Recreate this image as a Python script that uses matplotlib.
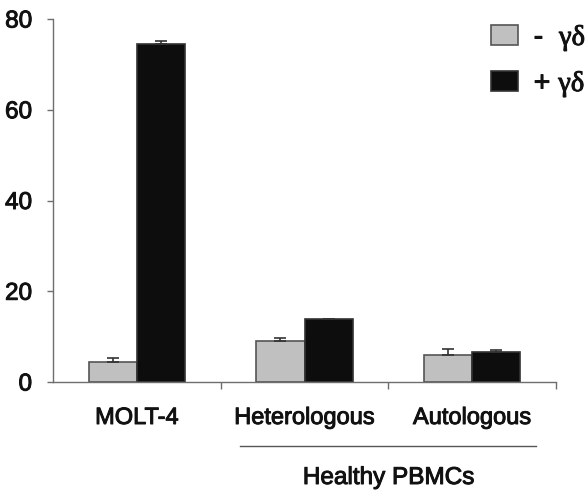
import matplotlib
matplotlib.use("Agg")
import matplotlib.pyplot as plt
import matplotlib.transforms as mtransforms
import matplotlib.patheffects as pe
from matplotlib.lines import Line2D
import numpy as np

plt.rcParams['font.family'] = ['Liberation Sans', 'DejaVu Sans']
plt.rcParams['mathtext.fontset'] = 'custom'
plt.rcParams['mathtext.rm'] = 'Liberation Serif'
plt.rcParams['mathtext.it'] = 'Liberation Serif'

categories = ["MOLT-4", "Heterologous", "Autologous"]
minus_gd = [4.5, 9.0, 6.0]
minus_gd_err = [0.7, 0.7, 1.3]
plus_gd = [74.6, 13.9, 6.6]
plus_gd_err = [0.6, 0.0, 0.4]
yticks = [0, 20, 40, 60, 80]
group_label = "Healthy PBMCs"

# slightly heavier strokes for all text
heavy = [pe.withStroke(linewidth=0.7, foreground="#111111")]

fig = plt.figure(figsize=(5.88, 4.91), dpi=100)
ax = fig.add_axes([53 / 588, 1 - 382 / 491, 503 / 588, 363 / 491])

x = np.arange(len(categories))
w = 0.287
axis_col = "#6e6e6e"

ax.bar(x - w / 2, minus_gd, w, color="#c0c0c0", edgecolor="#555555", linewidth=1.2,
       yerr=[np.zeros(len(x)), minus_gd_err], capsize=4,
       error_kw=dict(ecolor="#333333", elinewidth=1.2, capthick=1.2),
       label=r"-  $\mathrm{\gamma\delta}$", zorder=2)
ax.bar(x + w / 2, plus_gd, w, color="#0d0d0d", edgecolor="#333333", linewidth=1.2,
       yerr=[np.zeros(len(x)), plus_gd_err], capsize=4,
       error_kw=dict(ecolor="#333333", elinewidth=1.2, capthick=1.2),
       label=r"+ $\mathrm{\gamma\delta}$", zorder=2)

ax.set_xlim(-0.5, 2.5)
ax.set_ylim(0, 80)
ax.set_yticks(yticks)
ax.set_yticklabels([str(t) for t in yticks], fontsize=17.5, color="#111111")
for lbl in ax.get_yticklabels():
    lbl.set_path_effects(heavy)
ax.tick_params(axis='y', length=4, width=1, color=axis_col, pad=11)
ax.set_xticks([0.5, 1.5, 2.5])
ax.set_xticklabels([])
ax.tick_params(axis='x', length=5, width=1, color=axis_col)

for side in ("top", "right"):
    ax.spines[side].set_visible(False)
for side in ("left", "bottom"):
    ax.spines[side].set_color(axis_col)
    ax.spines[side].set_linewidth(1.0)

trans = mtransforms.blended_transform_factory(ax.transData, fig.transFigure)
for xi, name in zip(x, categories):
    ax.text(xi, 1 - 418 / 491, name, transform=trans, ha="center", va="center",
            fontsize=17, color="#111111", clip_on=False, path_effects=heavy)

fig.add_artist(Line2D([240 / 588, 536 / 588], [1 - 446 / 491, 1 - 446 / 491],
                      color="#555555", linewidth=1.0, transform=fig.transFigure))
ax.text(1.5, 1 - 478 / 491, group_label, transform=trans, ha="center", va="center",
        fontsize=17.5, color="#111111", clip_on=False, path_effects=heavy)

leg = ax.legend(loc="upper left", bbox_to_anchor=(491 / 588, 1 - 24 / 491),
                bbox_transform=fig.transFigure, frameon=False, fontsize=20.5,
                handlelength=0.95, handleheight=0.74, handletextpad=0.55,
                labelspacing=0.6, borderpad=0.0, borderaxespad=0.0)
for t in leg.get_texts():
    t.set_path_effects(heavy)
    t.set_color("#111111")

fig.savefig("out.png", dpi=100)
